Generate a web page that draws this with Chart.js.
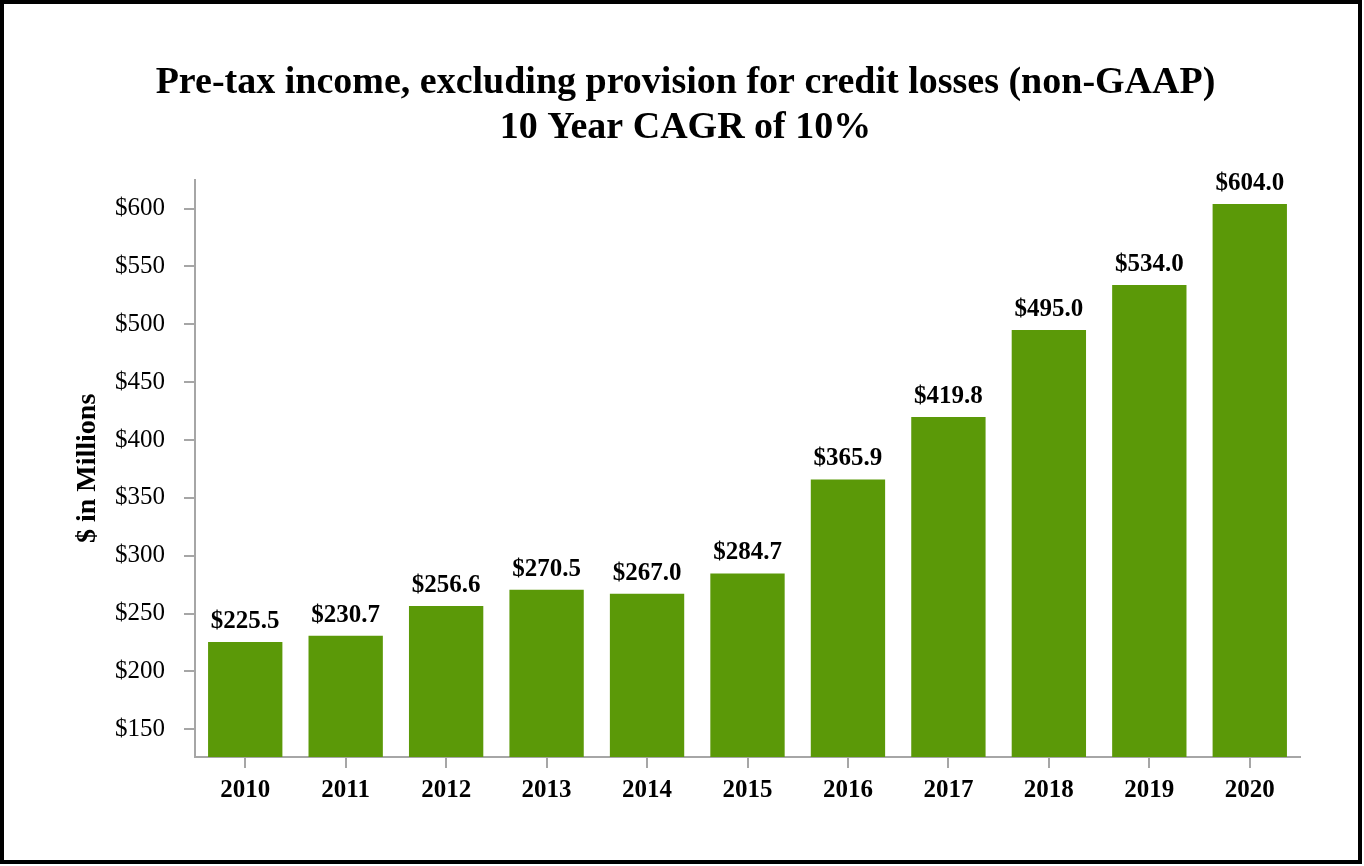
<!DOCTYPE html>
<html>
<head>
<meta charset="utf-8">
<script src="https://cdn.jsdelivr.net/npm/chart.js@4.4.0/dist/chart.umd.min.js"></script>
<style>
html,body{margin:0;padding:0;background:#fff;}
#wrap{width:1364px;height:866px;position:relative;}
</style>
</head>
<body>
<div id="wrap"><canvas id="c" width="1364" height="866"></canvas></div>
<script>
const years = ['2010','2011','2012','2013','2014','2015','2016','2017','2018','2019','2020'];
const income = [225.5, 230.7, 256.6, 270.5, 267.0, 284.7, 365.9, 419.8, 495.0, 534.0, 604.0];
const yTicks = [150, 200, 250, 300, 350, 400, 450, 500, 550, 600];
const titleLines = ['Pre-tax income, excluding provision for credit losses (non-GAAP)', '10 Year CAGR of 10%'];
const yAxisTitle = '$ in Millions';

const SERIF = '"Liberation Serif", "Times New Roman", serif';
const GREEN = '#5b9908';
const AXIS = '#a6a6a6';

const frame = {
  id: 'frame',
  beforeDraw(chart) {
    const ctx = chart.ctx;
    ctx.save();
    ctx.fillStyle = '#fff';
    ctx.fillRect(0, 0, chart.width, chart.height);
    ctx.strokeStyle = '#000';
    ctx.lineWidth = 4;
    ctx.strokeRect(2, 2, 1358, 860);
    ctx.restore();
  }
};

const labels = {
  id: 'valueLabels',
  afterDatasetsDraw(chart) {
    const ctx = chart.ctx;
    const meta = chart.getDatasetMeta(0);
    ctx.save();
    ctx.font = 'bold 25px ' + SERIF;
    ctx.fillStyle = '#000';
    ctx.textAlign = 'center';
    ctx.textBaseline = 'alphabetic';
    meta.data.forEach((bar, i) => {
      ctx.fillText('$' + income[i].toFixed(1), bar.x, bar.y - 14);
    });
    ctx.restore();
  }
};

new Chart(document.getElementById('c'), {
  type: 'bar',
  data: {
    labels: years,
    datasets: [{
      data: income,
      backgroundColor: GREEN,
      borderWidth: 0,
      barPercentage: 0.74,
      categoryPercentage: 1.0
    }]
  },
  options: {
    responsive: false,
    animation: false,
    devicePixelRatio: 1,
    layout: { padding: { left: 71, right: 64, top: 0, bottom: 0 } },
    plugins: {
      legend: { display: false },
      tooltip: { enabled: false },
      title: {
        display: true,
        text: titleLines,
        color: '#000',
        font: { family: SERIF, size: 38, weight: 'bold', lineHeight: 1.18 },
        padding: { top: 61, bottom: 29 }
      }
    },
    scales: {
      x: {
        grid: { display: true, drawOnChartArea: false, drawTicks: true, tickLength: 11, color: AXIS, lineWidth: 2, offset: false },
        border: { display: true, color: AXIS, width: 2 },
        ticks: { color: '#000', font: { family: SERIF, size: 25, weight: 'bold' }, padding: 8 },
        afterFit(scale) { scale.height = 866 - 757; }
      },
      y: {
        min: 126,
        max: 625,
        grid: { display: true, drawOnChartArea: false, drawTicks: true, tickLength: 11, color: AXIS, lineWidth: 2 },
        border: { display: true, color: AXIS, width: 2 },
        ticks: {
          color: '#000',
          font: { family: SERIF, size: 25 },
          padding: 19,
          callback: v => '$' + v
        },
        afterBuildTicks(scale) {
          scale.ticks = yTicks.map(v => ({ value: v }));
        },
        afterFit(scale) { scale.width = 195 - 71; },
        title: {
          display: true,
          text: yAxisTitle,
          color: '#000',
          font: { family: SERIF, size: 28, weight: 'bold' },
          padding: 0
        }
      }
    }
  },
  plugins: [frame, labels]
});
</script>
</body>
</html>
